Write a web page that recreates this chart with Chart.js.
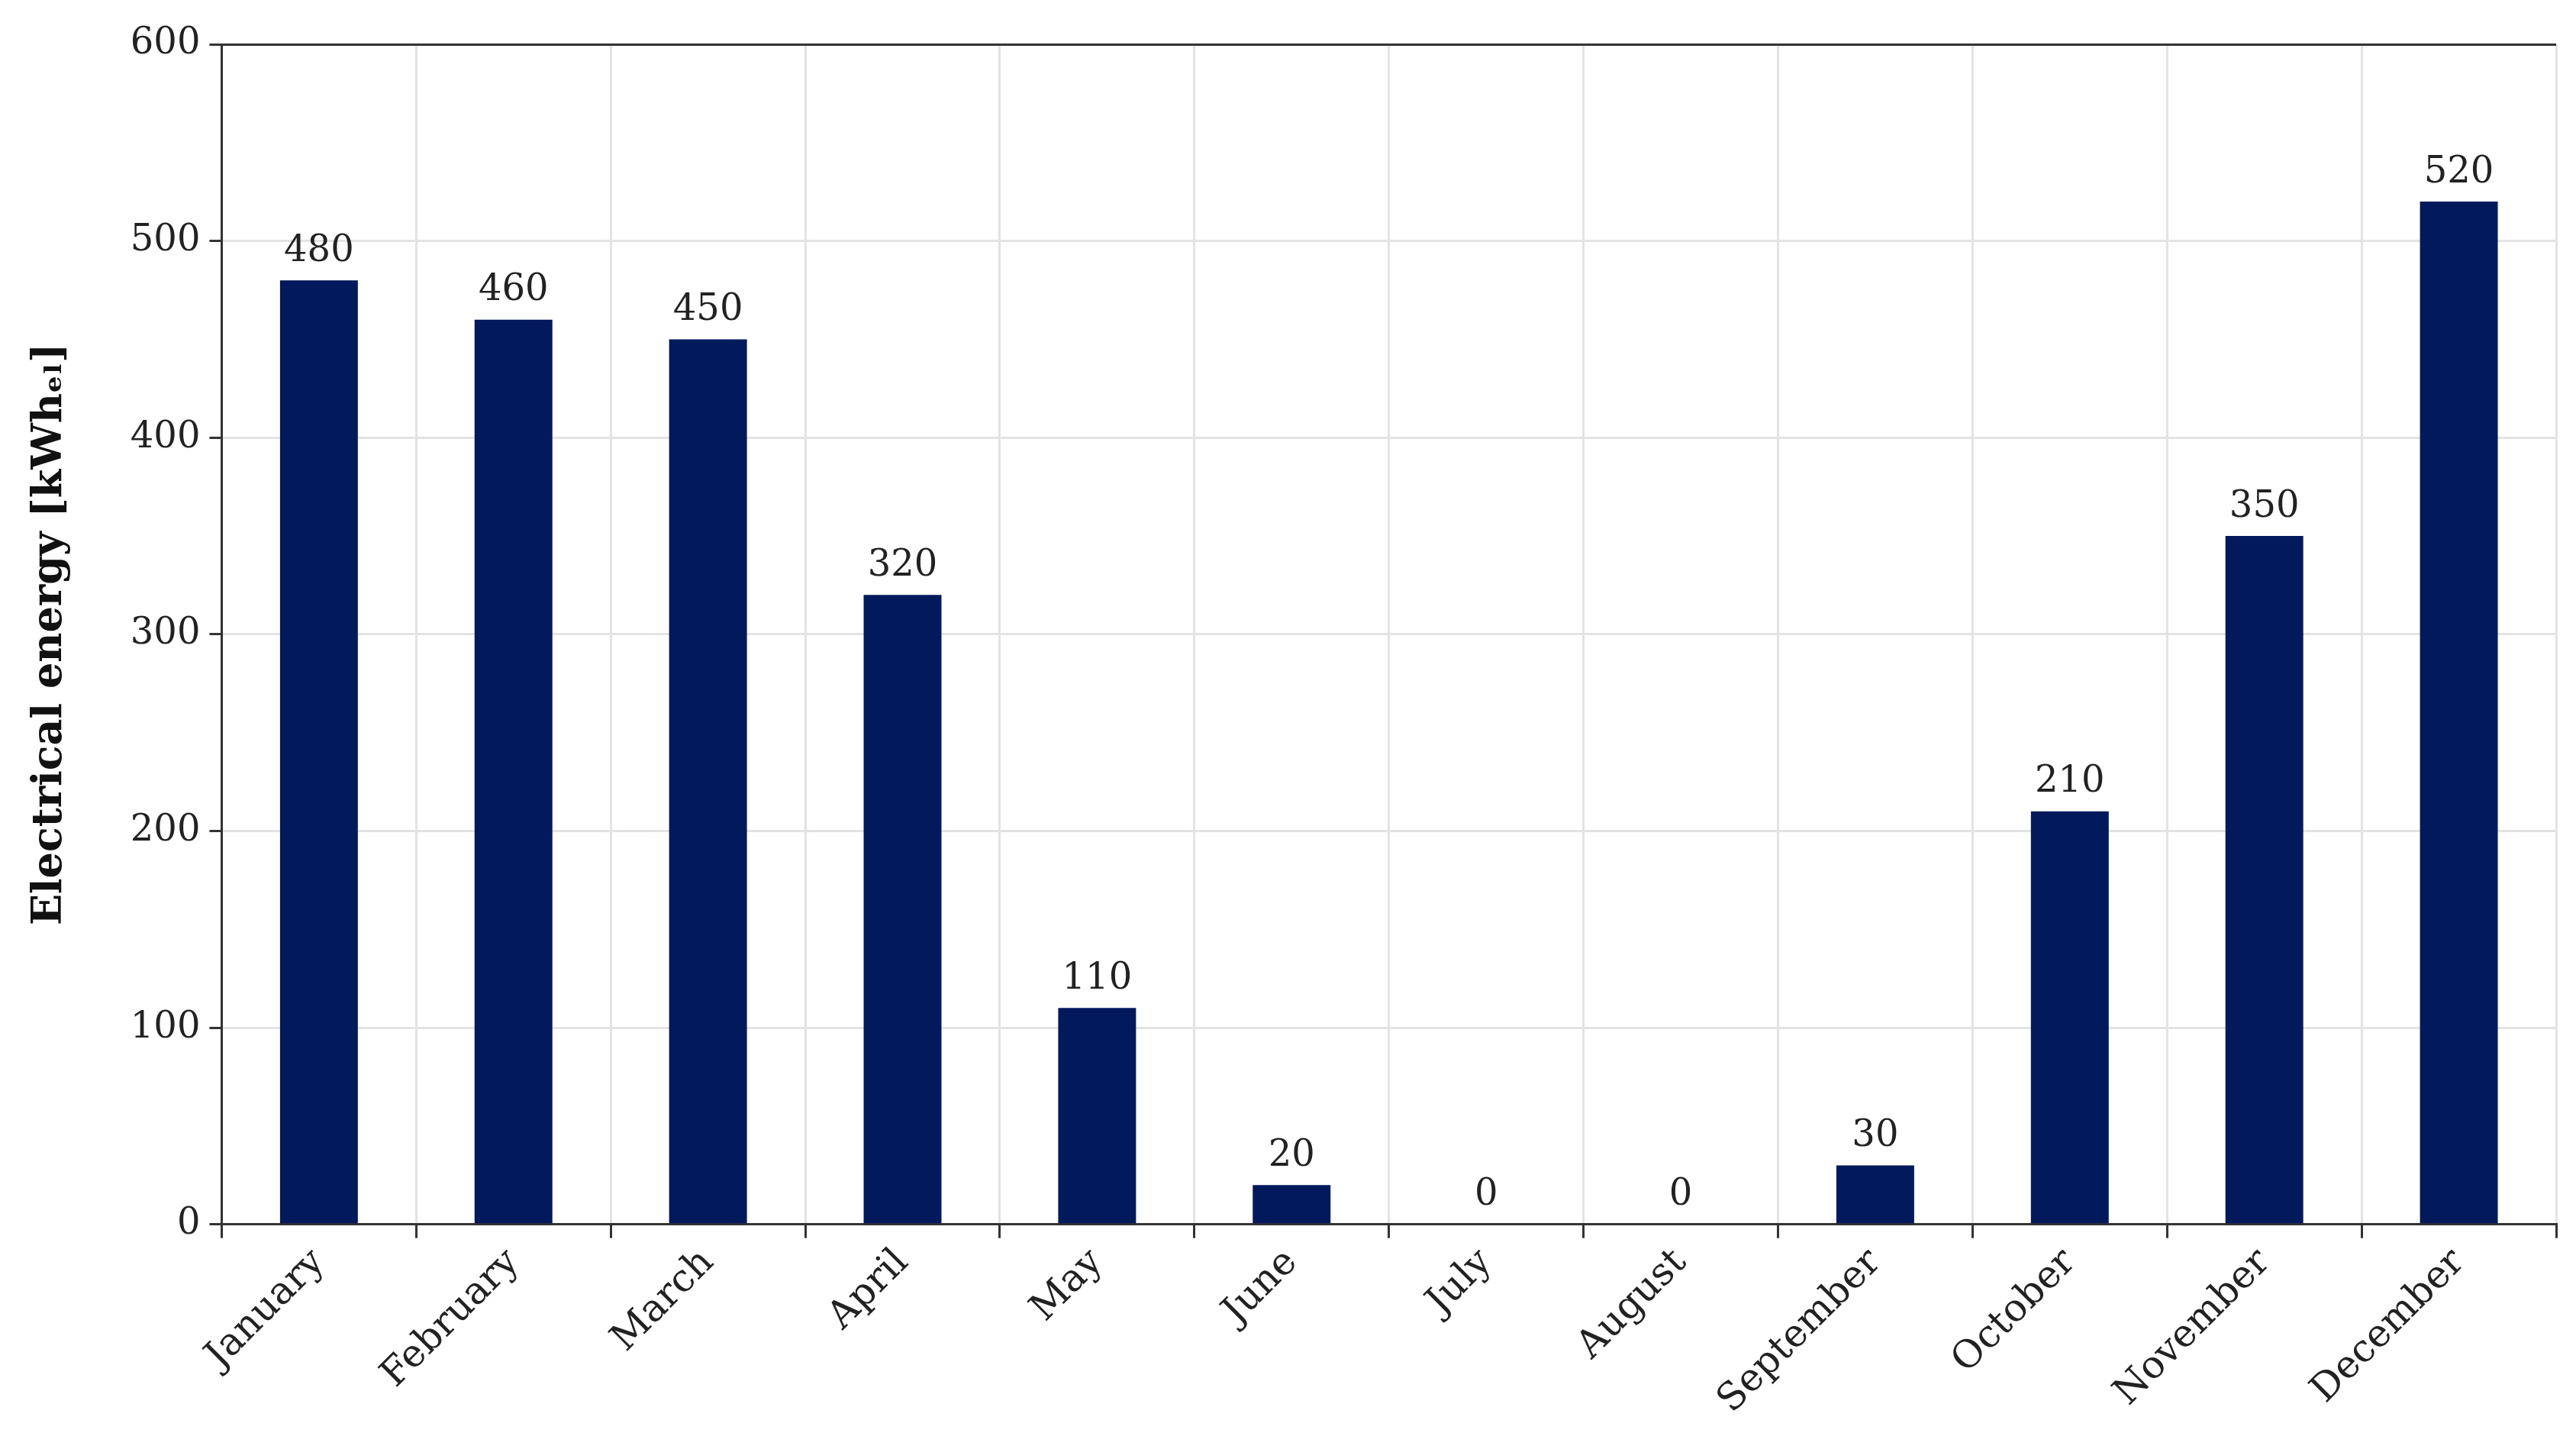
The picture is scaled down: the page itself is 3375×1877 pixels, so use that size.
<!DOCTYPE html>
<html>
<head>
<meta charset="utf-8">
<script src="https://cdn.jsdelivr.net/npm/chart.js@4"></script>
<style>
  html, body { margin: 0; padding: 0; background: #fff; }
</style>
</head>
<body>
<canvas id="energyChart" width="3375" height="1877"></canvas>
<script>
var months = ["January", "February", "March", "April", "May", "June", "July",
    "August", "September", "October", "November", "December"];
var energy = [480, 460, 450, 320, 110, 20, 0, 0, 30, 210, 350, 520];
var yTicks = [0, 100, 200, 300, 400, 500, 600];

var serif = "'DejaVu Serif', 'Liberation Serif', serif";

// value labels above each bar
var barLabels = {
    id: "barLabels",
    afterDatasetsDraw: function (chart) {
        var ctx = chart.ctx;
        var meta = chart.getDatasetMeta(0);
        ctx.save();
        ctx.font = "48px " + serif;
        ctx.fillStyle = "#222";
        ctx.textAlign = "center";
        ctx.textBaseline = "bottom";
        meta.data.forEach(function (bar, i) {
            ctx.fillText(String(energy[i]), bar.x, bar.y - 14);
        });
        ctx.restore();
    }
};

var ctx = document.getElementById("energyChart");
var myChart = new Chart(ctx, {
    type: "bar",
    data: {
        labels: months,
        datasets: [{
            data: energy,
            backgroundColor: "#021a5c",
            borderWidth: 0,
            barPercentage: 0.4,
            categoryPercentage: 1.0
        }]
    },
    options: {
        responsive: false,
        animation: false,
        devicePixelRatio: 1,
        layout: { padding: { left: 30, right: 26, top: 58, bottom: 10 } },
        plugins: {
            legend: { display: false },
            tooltip: { enabled: false }
        },
        scales: {
            x: {
                offset: true,
                grid: {
                    offset: true,
                    color: "#e3e3e3",
                    lineWidth: 3,
                    drawTicks: true,
                    tickLength: 18,
                    tickColor: "#333"
                },
                border: { color: "#333", width: 3 },
                ticks: {
                    maxRotation: 45,
                    minRotation: 45,
                    color: "#222",
                    font: { family: serif, size: 50 }
                }
            },
            y: {
                min: 0,
                max: 600,
                afterBuildTicks: function (axis) {
                    axis.ticks = yTicks.map(function (v) { return { value: v }; });
                },
                grid: {
                    color: function (c) { return c.tick && c.tick.value === 600 ? "#333" : "#e3e3e3"; },
                    lineWidth: 3,
                    tickLength: 16,
                    tickColor: "#333"
                },
                border: { color: "#333", width: 3 },
                ticks: {
                    color: "#222",
                    padding: 12,
                    font: { family: serif, size: 48 }
                },
                title: {
                    display: true,
                    text: "Electrical energy [kWhₑₗ]",
                    color: "#111",
                    font: { family: serif, size: 54, weight: "bold" },
                    padding: { bottom: 60 }
                }
            }
        }
    },
    plugins: [barLabels]
});
</script>
</body>
</html>
